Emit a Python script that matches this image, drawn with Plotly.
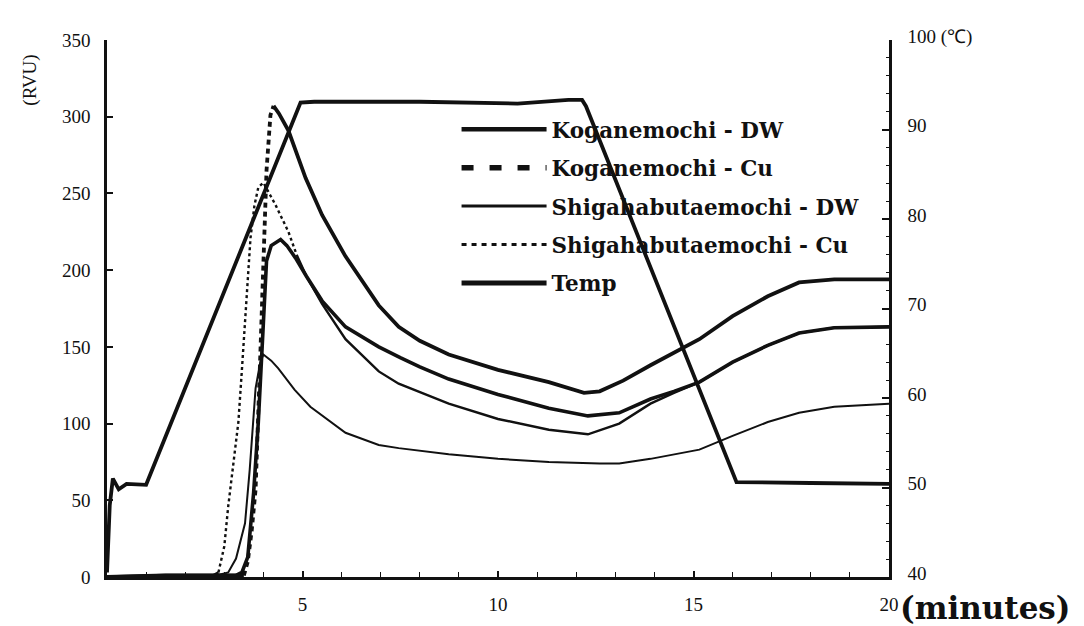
import numpy as np
import plotly.graph_objects as go

# ---------------- data ----------------
# Koganemochi - DW  (time in minutes, viscosity in RVU)
kog_dw_t = [0, 1.5, 3.0, 3.3, 3.45, 3.6, 3.75, 3.87, 4.0, 4.08, 4.2, 4.44, 4.6, 4.82, 5.1, 5.5,
            6.1, 6.95, 7.5, 8.0, 8.74, 10.0, 11.3, 12.3, 13.1, 13.9, 14.5, 15.15, 16.0, 16.9,
            17.7, 18.6, 20.0]
kog_dw_v = [0, 1, 1, 1, 3, 13, 55, 101, 166, 206, 216, 220, 216, 208, 196, 180,
            163, 150, 143, 137, 129, 119, 110, 105, 107, 116, 121, 127, 140, 151,
            159, 162.5, 163]

# Koganemochi - Cu
kog_cu_t = [0, 1.5, 3.0, 3.5, 3.6, 3.7, 3.8, 3.92, 4.0, 4.08, 4.18, 4.26, 4.4, 4.64, 4.85, 5.08,
            5.5, 6.1, 6.95, 7.46, 8.0, 8.74, 10.0, 11.3, 12.2, 12.6, 13.2, 13.9, 15.15, 16.0,
            16.9, 17.7, 18.6, 20.0]
kog_cu_v = [0, 1, 1, 1, 10, 30, 57, 144, 210, 265, 301, 307, 302, 291, 276, 260,
            236, 209, 177, 163, 154, 145, 135, 127, 120, 121, 128, 138, 155, 170,
            183, 192, 194, 194]

# Shigahabutaemochi - DW
shig_dw_t = [0, 1.5, 2.8, 3.1, 3.3, 3.53, 3.65, 3.8, 3.92, 4.0, 4.2, 4.38, 4.8, 5.2, 6.1, 6.95,
             7.46, 8.74, 10.0, 11.3, 12.6, 13.1, 13.9, 15.15, 16.0, 16.9, 17.7, 18.6, 20.0]
shig_dw_v = [0, 1, 1, 3, 12, 35, 70, 123, 140, 145, 141, 136, 122, 111, 94, 86,
             84, 80, 77, 75, 74, 74, 77, 83, 92, 101, 107, 111, 113]

# Shigahabutaemochi - Cu
shig_cu_t = [0, 1.5, 2.7, 2.85, 3.0, 3.1, 3.25, 3.36, 3.45, 3.53, 3.6, 3.67, 3.77, 3.87, 4.0,
             4.15, 4.3, 4.47, 4.64, 4.85, 5.1, 5.5, 6.1, 6.95, 7.46, 8.74, 10.0, 11.3, 12.3,
             13.1, 13.9, 14.5, 15.15, 16.0, 16.9, 17.7, 18.6, 20.0]
shig_cu_v = [0, 1, 1, 3, 20, 46, 80, 101, 135, 166, 195, 221, 242, 254, 257,
             250, 243, 234, 225, 210, 196, 178, 155, 134, 126, 113, 103, 96, 93,
             100, 113, 120, 127, 140, 151, 159, 162.5, 163]

# Temperature profile (deg C, right axis)
temp_t = [0, 0.07, 0.15, 0.3, 0.5, 1.0, 4.95, 5.3, 8.0, 10.5, 11.8, 12.15, 12.25, 16.1, 18.0, 20.0]
temp_c = [40.5, 48, 51.0, 49.8, 50.4, 50.3, 93.0, 93.1, 93.1, 92.9, 93.3, 93.3, 92.6, 50.6, 50.5, 50.4]

# axis ticks
rvu_ticks = [0, 50, 100, 150, 200, 250, 300, 350]
temp_ticks = [40, 50, 60, 70, 80, 90, 100]
temp_ticktext = ["40", "50", "60", "70", "80", "90", "100 (℃)"]
time_ticks = [5, 10, 15, 20]

series_names = ["Koganemochi - DW", "Koganemochi - Cu", "Shigahabutaemochi - DW",
                "Shigahabutaemochi - Cu", "Temp"]

# ---------------- figure ----------------
INK = "#111111"
fig = go.Figure()


def seg(t, v, lo, hi):
    t = np.asarray(t, float)
    v = np.asarray(v, float)
    m = (t >= lo) & (t <= hi)
    return t[m], v[m]


# Shigahabutaemochi - DW (thin solid)
fig.add_trace(go.Scatter(x=shig_dw_t, y=shig_dw_v, mode="lines", showlegend=False,
                         line=dict(color=INK, width=2), hoverinfo="skip"))

# Shigahabutaemochi - Cu : dotted where the trace rises steeply, solid elsewhere
for lo, hi, dash in [(0, 2.85, "solid"), (2.85, 4.85, "3px,3px"), (4.85, 20, "solid")]:
    tx, vy = seg(shig_cu_t, shig_cu_v, lo, hi)
    fig.add_trace(go.Scatter(x=tx, y=vy, mode="lines", showlegend=False,
                             line=dict(color=INK, width=2.4, dash=dash), hoverinfo="skip"))

# Koganemochi - DW (thick solid)
fig.add_trace(go.Scatter(x=kog_dw_t, y=kog_dw_v, mode="lines", showlegend=False,
                         line=dict(color=INK, width=3.6), hoverinfo="skip"))

# Koganemochi - Cu : heavy dots on the steep rise, solid elsewhere
for lo, hi, dash in [(0, 3.5, "solid"), (3.5, 4.26, "5px,4px"), (4.26, 20, "solid")]:
    tx, vy = seg(kog_cu_t, kog_cu_v, lo, hi)
    fig.add_trace(go.Scatter(x=tx, y=vy, mode="lines", showlegend=False,
                             line=dict(color=INK, width=3.8, dash=dash), hoverinfo="skip"))

# Temperature on right axis
fig.add_trace(go.Scatter(x=temp_t, y=temp_c, yaxis="y2", mode="lines", showlegend=False,
                         line=dict(color=INK, width=3.8), hoverinfo="skip"))

# legend entries (styles as shown in the legend box)
legend_styles = [dict(width=4.5, dash="solid"), dict(width=5.5, dash="12px,16px"),
                 dict(width=3, dash="solid"), dict(width=3, dash="5px,5px"),
                 dict(width=5, dash="solid")]
for name, st in zip(series_names, legend_styles):
    fig.add_trace(go.Scatter(x=[None], y=[None], mode="lines", name=name, legendgroup=name,
                             line=dict(color=INK, **st)))

tick_font = dict(family="Liberation Serif", size=19, color=INK)

# the page adds an 8px body margin, so the figure is 8px smaller and margins are shifted
fig.update_layout(
    width=1076, height=618, autosize=False,
    margin=dict(l=99, r=195, t=32, b=49),
    paper_bgcolor="white", plot_bgcolor="white",
    showlegend=True,
    legend=dict(x=0.447, y=0.872, xanchor="left", yanchor="top",
                bgcolor="rgba(0,0,0,0)", borderwidth=0,
                font=dict(family="DejaVu Serif", size=21.5, color=INK, weight="bold"),
                itemwidth=85, tracegroupgap=7.5, traceorder="grouped"),
    xaxis=dict(range=[0, 20], tickvals=time_ticks, ticks="inside", ticklen=6, tickwidth=1.5,
               tickcolor=INK, showline=True, linecolor=INK, linewidth=2.5, showgrid=False,
               zeroline=False, tickfont=tick_font, ticklabelstandoff=8,
               minor=dict(dtick=1, ticks="inside", ticklen=5, tickcolor=INK, tickwidth=1.2,
                          showgrid=False)),
    yaxis=dict(range=[0, 350], tickvals=rvu_ticks, ticks="inside", ticklen=6, tickwidth=1.5,
               tickcolor=INK, showline=True, linecolor=INK, linewidth=2.5, showgrid=False,
               zeroline=False, tickfont=tick_font, ticklabelstandoff=10),
    yaxis2=dict(range=[40, 100], overlaying="y", side="right", tickvals=temp_ticks,
                ticktext=temp_ticktext, ticks="inside", ticklen=7, tickwidth=1.5,
                tickcolor=INK, showline=True, linecolor=INK, linewidth=2.5, showgrid=False,
                zeroline=False, tickfont=tick_font, ticklabelstandoff=12, ticklabelshift=-4,
                minor=dict(dtick=2, ticks="inside", ticklen=3, tickcolor=INK, tickwidth=1,
                           showgrid=False)),
    annotations=[
        dict(text="(RVU)", xref="paper", yref="paper", x=-0.098, y=0.925, xanchor="center",
             yanchor="middle", showarrow=False, textangle=-90,
             font=dict(family="Liberation Serif", size=19, color=INK)),
        dict(text="(minutes)", xref="paper", yref="paper", x=1.012, y=-0.0575, xanchor="left",
             yanchor="middle", showarrow=False,
             font=dict(family="DejaVu Serif", size=31, color=INK, weight="bold")),
    ],
)

fig.write_html("out.html")
